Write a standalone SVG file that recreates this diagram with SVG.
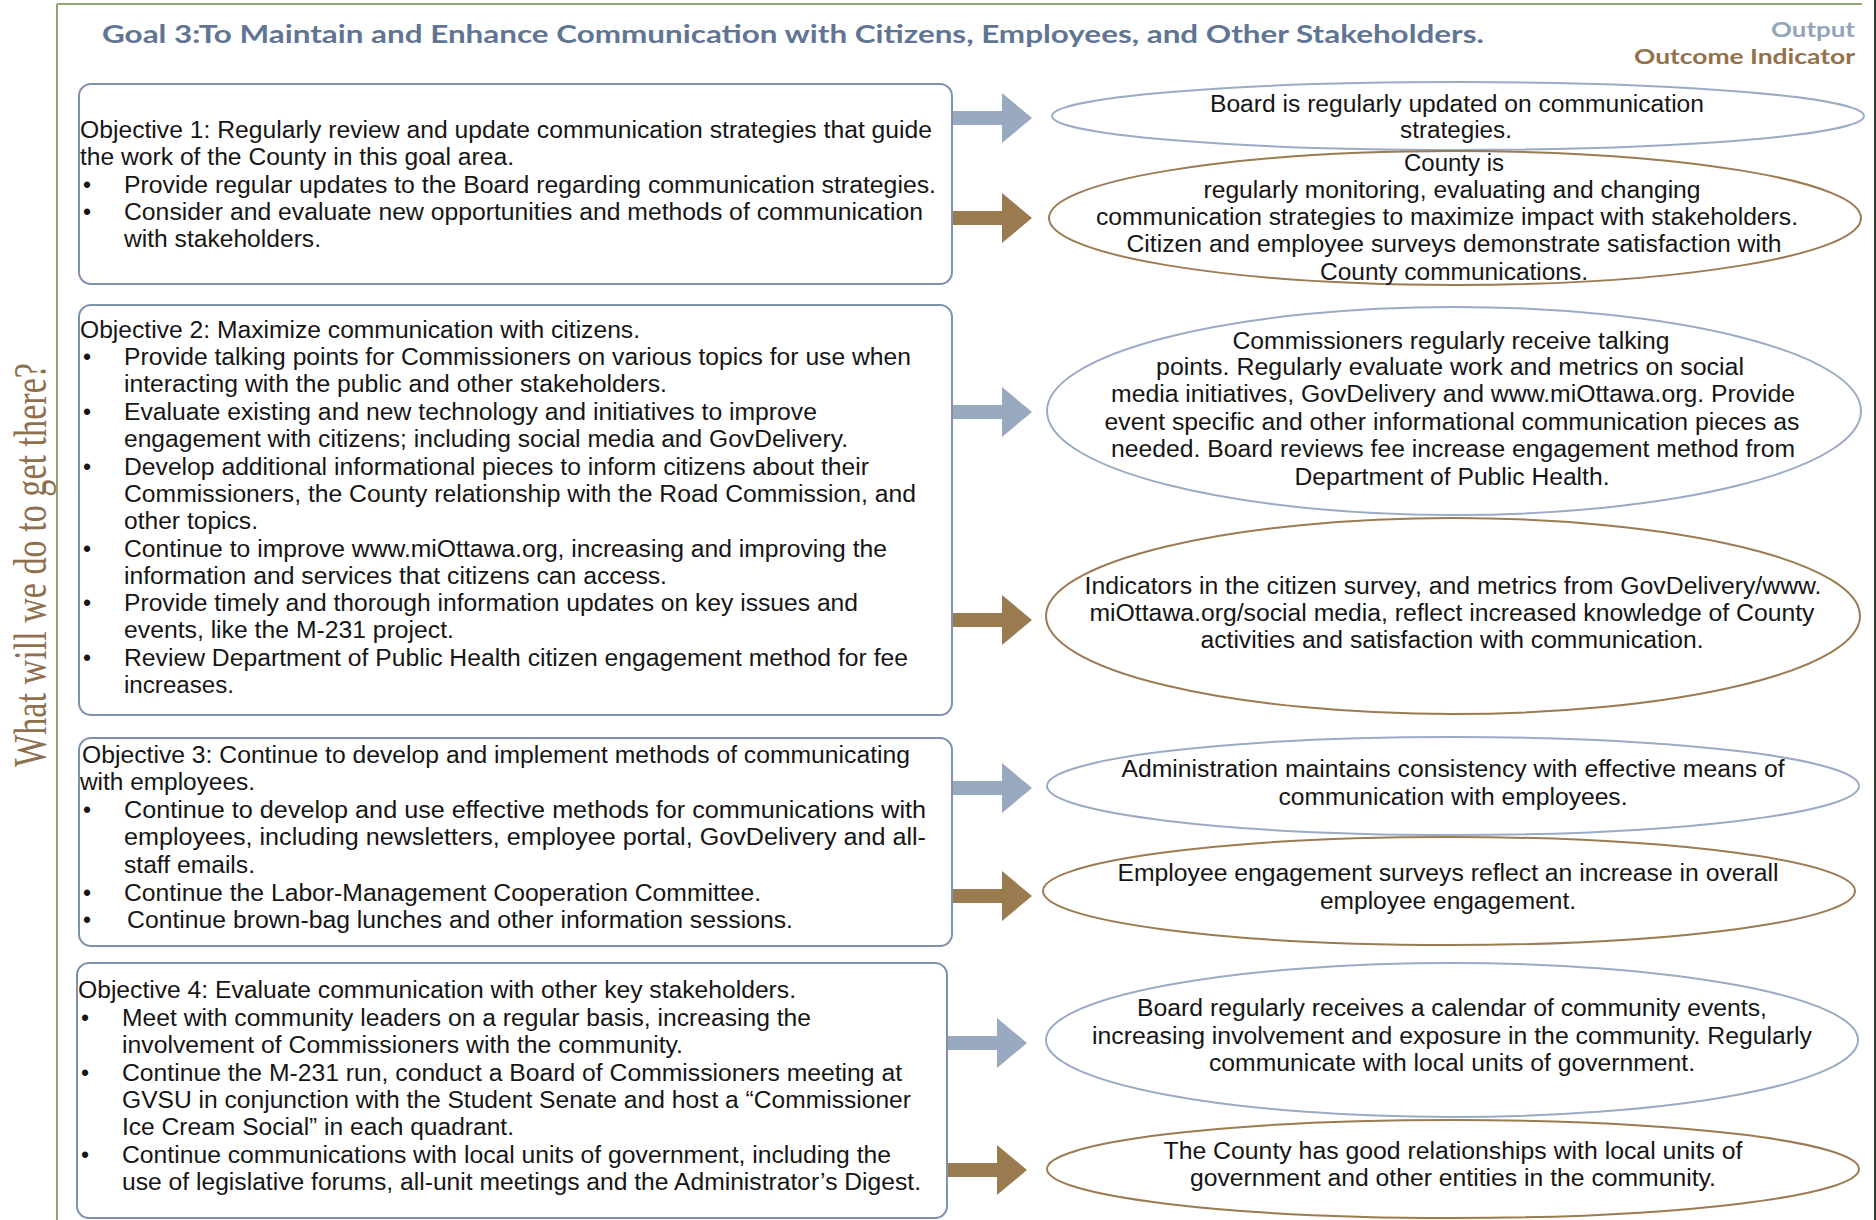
<svg xmlns="http://www.w3.org/2000/svg" xmlns:xlink="http://www.w3.org/1999/xlink" width="1876" height="1220" viewBox="0 0 1876 1220">
<style>
.frame{stroke:#8fa86e;stroke-width:2;fill:none}
.edge{stroke:#33402a;stroke-width:2;fill:none}
.title{font-family:Lato,"Liberation Sans",sans-serif;font-weight:bold;font-size:24px;fill:#5f7593}
.out{font-family:Lato,"Liberation Sans",sans-serif;font-weight:bold;font-size:21px;fill:#93a4bb}
.outc{font-family:Lato,"Liberation Sans",sans-serif;font-weight:bold;font-size:21px;fill:#94714a}
.side{font-family:"Liberation Serif",serif;font-size:46px;fill:#8e6f4e}
.box{fill:#fff;stroke:#7e92ad;stroke-width:2}
.t{font-family:"Liberation Sans",Arial,sans-serif;font-size:23px;fill:#151515}
.c{text-anchor:middle}
.eb{fill:none;stroke:#9aabc3;stroke-width:2}
.eo{fill:none;stroke:#9c7a52;stroke-width:2}
.ab{fill:#99a9c0}
.ao{fill:#9a7a4f}
</style>
<defs>
<path id="arrow" d="M0,-7 H49 V-25 L79,0 L49,25 V7 H0 Z"/>
</defs>
<rect width="1876" height="1220" fill="#fff"/>
<line class="frame" x1="57" y1="4" x2="1862" y2="4"/>
<line class="frame" x1="57" y1="4" x2="57" y2="1220"/>
<line class="edge" x1="1875" y1="0" x2="1875" y2="1220"/>

<text class="title" x="102" y="43" textLength="1382" lengthAdjust="spacingAndGlyphs">Goal 3:To Maintain and Enhance Communication with Citizens, Employees, and Other Stakeholders.</text>
<text class="out" x="1855" y="37" text-anchor="end" textLength="84" lengthAdjust="spacingAndGlyphs">Output</text>
<text class="outc" x="1855" y="64" text-anchor="end" textLength="221" lengthAdjust="spacingAndGlyphs">Outcome Indicator</text>
<text class="side" transform="translate(46,565) rotate(-90)" text-anchor="middle" textLength="404" lengthAdjust="spacingAndGlyphs">What will we do to get there?</text>

<g id="connectors">
<use href="#arrow" class="ab" transform="translate(953,118)"/>
<use href="#arrow" class="ao" transform="translate(953,218)"/>
<use href="#arrow" class="ab" transform="translate(953,412)"/>
<use href="#arrow" class="ao" transform="translate(953,620)"/>
<use href="#arrow" class="ab" transform="translate(953,788)"/>
<use href="#arrow" class="ao" transform="translate(953,896)"/>
<use href="#arrow" class="ab" transform="translate(948,1043)"/>
<use href="#arrow" class="ao" transform="translate(948,1170)"/>
</g>

<g id="objective1">
<rect class="box" x="79" y="84" width="873" height="200" rx="12"/>
<text class="t" x="80" y="138" textLength="852" lengthAdjust="spacingAndGlyphs">Objective 1: Regularly review and update communication strategies that guide</text>
<text class="t" x="80" y="165" textLength="434" lengthAdjust="spacingAndGlyphs">the work of the County in this goal area.</text>
<text class="t" x="83" y="193">•</text>
<text class="t" x="124" y="193" textLength="812" lengthAdjust="spacingAndGlyphs">Provide regular updates to the Board regarding communication strategies.</text>
<text class="t" x="83" y="220">•</text>
<text class="t" x="124" y="220" textLength="799" lengthAdjust="spacingAndGlyphs">Consider and evaluate new opportunities and methods of communication</text>
<text class="t" x="124" y="247" textLength="197" lengthAdjust="spacingAndGlyphs">with stakeholders.</text>
</g>

<g id="objective2">
<rect class="box" x="79" y="305" width="873" height="410" rx="12"/>
<text class="t" x="80" y="338" textLength="560" lengthAdjust="spacingAndGlyphs">Objective 2: Maximize communication with citizens.</text>
<text class="t" x="83" y="365">•</text>
<text class="t" x="124" y="365" textLength="787" lengthAdjust="spacingAndGlyphs">Provide talking points for Commissioners on various topics for use when</text>
<text class="t" x="124" y="392" textLength="543" lengthAdjust="spacingAndGlyphs">interacting with the public and other stakeholders.</text>
<text class="t" x="83" y="420">•</text>
<text class="t" x="124" y="420" textLength="693" lengthAdjust="spacingAndGlyphs">Evaluate existing and new technology and initiatives to improve</text>
<text class="t" x="124" y="447" textLength="724" lengthAdjust="spacingAndGlyphs">engagement with citizens; including social media and GovDelivery.</text>
<text class="t" x="83" y="475">•</text>
<text class="t" x="124" y="475" textLength="745" lengthAdjust="spacingAndGlyphs">Develop additional informational pieces to inform citizens about their</text>
<text class="t" x="124" y="502" textLength="792" lengthAdjust="spacingAndGlyphs">Commissioners, the County relationship with the Road Commission, and</text>
<text class="t" x="124" y="529" textLength="134" lengthAdjust="spacingAndGlyphs">other topics.</text>
<text class="t" x="83" y="557">•</text>
<text class="t" x="124" y="557" textLength="763" lengthAdjust="spacingAndGlyphs">Continue to improve www.miOttawa.org, increasing and improving the</text>
<text class="t" x="124" y="584" textLength="543" lengthAdjust="spacingAndGlyphs">information and services that citizens can access.</text>
<text class="t" x="83" y="611">•</text>
<text class="t" x="124" y="611" textLength="734" lengthAdjust="spacingAndGlyphs">Provide timely and thorough information updates on key issues and</text>
<text class="t" x="124" y="638" textLength="330" lengthAdjust="spacingAndGlyphs">events, like the M-231 project.</text>
<text class="t" x="83" y="666">•</text>
<text class="t" x="124" y="666" textLength="784" lengthAdjust="spacingAndGlyphs">Review Department of Public Health citizen engagement method for fee</text>
<text class="t" x="124" y="693" textLength="110" lengthAdjust="spacingAndGlyphs">increases.</text>
</g>

<g id="objective3">
<rect class="box" x="79" y="738" width="873" height="208" rx="12"/>
<text class="t" x="82" y="763" textLength="828" lengthAdjust="spacingAndGlyphs">Objective 3: Continue to develop and implement methods of communicating</text>
<text class="t" x="80" y="790" textLength="175" lengthAdjust="spacingAndGlyphs">with employees.</text>
<text class="t" x="83" y="818">•</text>
<text class="t" x="124" y="818" textLength="802" lengthAdjust="spacingAndGlyphs">Continue to develop and use effective methods for communications with</text>
<text class="t" x="124" y="845" textLength="802" lengthAdjust="spacingAndGlyphs">employees, including newsletters, employee portal, GovDelivery and all-</text>
<text class="t" x="124" y="873" textLength="131" lengthAdjust="spacingAndGlyphs">staff emails.</text>
<text class="t" x="83" y="901">•</text>
<text class="t" x="124" y="901" textLength="637" lengthAdjust="spacingAndGlyphs">Continue the Labor-Management Cooperation Committee.</text>
<text class="t" x="83" y="928">•</text>
<text class="t" x="127" y="928" textLength="666" lengthAdjust="spacingAndGlyphs">Continue brown-bag lunches and other information sessions.</text>
</g>

<g id="objective4">
<rect class="box" x="77" y="963" width="870" height="255" rx="12"/>
<text class="t" x="78" y="998" textLength="718" lengthAdjust="spacingAndGlyphs">Objective 4: Evaluate communication with other key stakeholders.</text>
<text class="t" x="81" y="1026">•</text>
<text class="t" x="122" y="1026" textLength="689" lengthAdjust="spacingAndGlyphs">Meet with community leaders on a regular basis, increasing the</text>
<text class="t" x="122" y="1053" textLength="561" lengthAdjust="spacingAndGlyphs">involvement of Commissioners with the community.</text>
<text class="t" x="81" y="1081">•</text>
<text class="t" x="122" y="1081" textLength="780" lengthAdjust="spacingAndGlyphs">Continue the M-231 run, conduct a Board of Commissioners meeting at</text>
<text class="t" x="122" y="1108" textLength="789" lengthAdjust="spacingAndGlyphs">GVSU in conjunction with the Student Senate and host a “Commissioner</text>
<text class="t" x="122" y="1135" textLength="392" lengthAdjust="spacingAndGlyphs">Ice Cream Social” in each quadrant.</text>
<text class="t" x="81" y="1163">•</text>
<text class="t" x="122" y="1163" textLength="769" lengthAdjust="spacingAndGlyphs">Continue communications with local units of government, including the</text>
<text class="t" x="122" y="1190" textLength="799" lengthAdjust="spacingAndGlyphs">use of legislative forums, all-unit meetings and the Administrator’s Digest.</text>
</g>

<g id="output1">
<ellipse class="eb" cx="1458" cy="116" rx="406" ry="34"/>
<text class="t c" x="1457" y="112" textLength="494" lengthAdjust="spacingAndGlyphs">Board is regularly updated on communication</text>
<text class="t c" x="1456" y="138" textLength="112" lengthAdjust="spacingAndGlyphs">strategies.</text>
</g>

<g id="outcome1">
<ellipse class="eo" cx="1455" cy="218" rx="406" ry="67"/>
<text class="t c" x="1454" y="171" textLength="100" lengthAdjust="spacingAndGlyphs">County is</text>
<text class="t c" x="1452" y="198" textLength="497" lengthAdjust="spacingAndGlyphs">regularly monitoring, evaluating and changing</text>
<text class="t c" x="1447" y="225" textLength="702" lengthAdjust="spacingAndGlyphs">communication strategies to maximize impact with stakeholders.</text>
<text class="t c" x="1454" y="252" textLength="655" lengthAdjust="spacingAndGlyphs">Citizen and employee surveys demonstrate satisfaction with</text>
<text class="t c" x="1454" y="280" textLength="268" lengthAdjust="spacingAndGlyphs">County communications.</text>
</g>

<g id="output2">
<ellipse class="eb" cx="1454" cy="411" rx="407" ry="104"/>
<text class="t c" x="1451" y="349" textLength="437" lengthAdjust="spacingAndGlyphs">Commissioners regularly receive talking</text>
<text class="t c" x="1450" y="375" textLength="588" lengthAdjust="spacingAndGlyphs">points. Regularly evaluate work and metrics on  social</text>
<text class="t c" x="1453" y="402" textLength="684" lengthAdjust="spacingAndGlyphs">media initiatives, GovDelivery and www.miOttawa.org. Provide</text>
<text class="t c" x="1452" y="430" textLength="695" lengthAdjust="spacingAndGlyphs">event specific and other informational communication pieces as</text>
<text class="t c" x="1453" y="457" textLength="684" lengthAdjust="spacingAndGlyphs">needed. Board reviews fee increase engagement method from</text>
<text class="t c" x="1452" y="485" textLength="315" lengthAdjust="spacingAndGlyphs">Department of Public Health.</text>
</g>

<g id="outcome2">
<ellipse class="eo" cx="1453" cy="616" rx="407" ry="98"/>
<text class="t c" x="1453" y="594" textLength="737" lengthAdjust="spacingAndGlyphs">Indicators in the citizen survey, and metrics from GovDelivery/www.</text>
<text class="t c" x="1452" y="621" textLength="725" lengthAdjust="spacingAndGlyphs">miOttawa.org/social media, reflect increased knowledge of County</text>
<text class="t c" x="1452" y="648" textLength="503" lengthAdjust="spacingAndGlyphs">activities and satisfaction with communication.</text>
</g>

<g id="output3">
<ellipse class="eb" cx="1453" cy="786" rx="406" ry="49"/>
<text class="t c" x="1453" y="777" textLength="663" lengthAdjust="spacingAndGlyphs">Administration maintains consistency with effective means of</text>
<text class="t c" x="1453" y="805" textLength="349" lengthAdjust="spacingAndGlyphs">communication with employees.</text>
</g>

<g id="outcome3">
<ellipse class="eo" cx="1449" cy="891" rx="406" ry="54"/>
<text class="t c" x="1448" y="881" textLength="661" lengthAdjust="spacingAndGlyphs">Employee engagement surveys reflect an increase in overall</text>
<text class="t c" x="1448" y="909" textLength="256" lengthAdjust="spacingAndGlyphs">employee engagement.</text>
</g>

<g id="output4">
<ellipse class="eb" cx="1452" cy="1040" rx="406" ry="77"/>
<text class="t c" x="1452" y="1016" textLength="630" lengthAdjust="spacingAndGlyphs">Board regularly receives a calendar of community events,</text>
<text class="t c" x="1452" y="1044" textLength="720" lengthAdjust="spacingAndGlyphs">increasing involvement and exposure in the community. Regularly</text>
<text class="t c" x="1452" y="1071" textLength="486" lengthAdjust="spacingAndGlyphs">communicate with local units of government.</text>
</g>

<g id="outcome4">
<ellipse class="eo" cx="1453" cy="1169" rx="406" ry="49"/>
<text class="t c" x="1453" y="1159" textLength="579" lengthAdjust="spacingAndGlyphs">The County has good relationships with local units of</text>
<text class="t c" x="1453" y="1186" textLength="526" lengthAdjust="spacingAndGlyphs">government and other entities in the community.</text>
</g>
</svg>
